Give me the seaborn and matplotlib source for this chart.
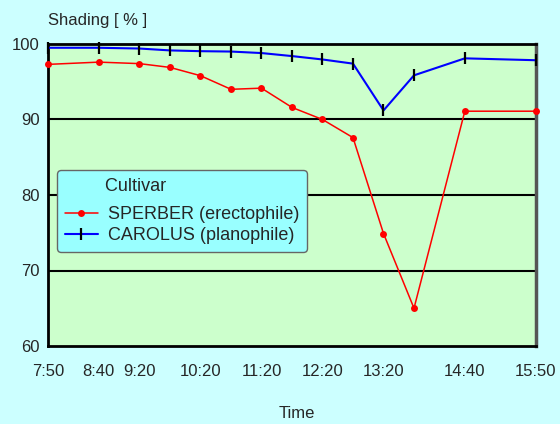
import pandas as pd
import matplotlib
matplotlib.use("Agg")
import matplotlib.pyplot as plt
import seaborn as sns

# ============================================
# DATA
# ============================================
times = ["7:50", "8:40", "9:20", "9:50", "10:20", "10:50", "11:20",
         "11:50", "12:20", "12:50", "13:20", "13:50", "14:40", "15:50"]
sperber = [97.3, 97.6, 97.4, 96.9, 95.8, 94.0, 94.15,
           91.6, 90.0, 87.6, 74.9, 65.0, 91.1, 91.1]
carolus = [99.5, 99.5, 99.4, 99.15, 99.05, 99.0, 98.8,
           98.4, 97.95, 97.4, 91.2, 95.85, 98.1, 97.85]
tick_labels = ["7:50", "8:40", "9:20", "10:20", "11:20",
               "12:20", "13:20", "14:40", "15:50"]
y_ticks = [60, 70, 80, 90, 100]


def to_min(t):
    h, m = t.split(":")
    return int(h) * 60 + int(m)


df = pd.DataFrame({
    "minutes": [to_min(t) for t in times],
    "sperber": sperber,
    "carolus": carolus,
})

# ============================================
# STYLE
# ============================================
sns.set_style("white")
plt.rcParams["font.family"] = ["Liberation Sans", "DejaVu Sans"]
plt.rcParams["font.size"] = 12

fig = plt.figure(figsize=(5.6, 4.24), dpi=100, facecolor="#ccffff")
ax = fig.add_axes([48 / 560, 1 - 346 / 424, (536 - 48) / 560, (346 - 44) / 424])
ax.set_facecolor("#ccffcc")

# horizontal grid lines
for yv in [70, 80, 90]:
    ax.axhline(yv, color="black", linewidth=1.5, zorder=1)

sns.lineplot(data=df, x="minutes", y="sperber", ax=ax, color="red",
             linewidth=1.1, marker="o", markersize=5, markeredgewidth=0,
             label="SPERBER (erectophile)", clip_on=False, zorder=3)
sns.lineplot(data=df, x="minutes", y="carolus", ax=ax, color="blue",
             linewidth=1.5, marker="|", markersize=9, markeredgewidth=1.6,
             markeredgecolor="black", label="CAROLUS (planophile)",
             clip_on=False, zorder=3)

ax.set_xlim(to_min("7:50"), to_min("15:50"))
ax.set_ylim(60, 100)
ax.set_xticks([to_min(t) for t in tick_labels])
ax.set_xticklabels(tick_labels)
ax.set_yticks(y_ticks)
ax.tick_params(axis="x", length=0, pad=13, labelsize=12)
ax.tick_params(axis="y", length=0, pad=6, labelsize=12)
ax.set_xlabel("")
ax.set_ylabel("")

for side in ["left", "top", "bottom"]:
    ax.spines[side].set_color("black")
    ax.spines[side].set_linewidth(2)
ax.spines["right"].set_color("#555555")
ax.spines["right"].set_linewidth(2.5)

fig.text(48 / 560, 1 - 20 / 424, "Shading [ % ]", ha="left", va="center", fontsize=12)
fig.text(297 / 560, 1 - 413 / 424, "Time", ha="center", va="center", fontsize=12)

leg = ax.legend(title="        Cultivar", loc="upper left",
                bbox_to_anchor=(57 / 560, 1 - 170 / 424),
                bbox_transform=fig.transFigure, borderaxespad=0,
                alignment="left", frameon=True, fancybox=True,
                facecolor="#99ffff", edgecolor="#666666", framealpha=1,
                fontsize=13, title_fontsize=13, handlelength=1.8,
                handletextpad=0.55, labelspacing=0.2, borderpad=0.45)
leg.get_frame().set_linewidth(1.0)
# extra gap between the title and the entries
leg._legend_box.sep = 8

fig.savefig("out.png", dpi=100, facecolor=fig.get_facecolor())
